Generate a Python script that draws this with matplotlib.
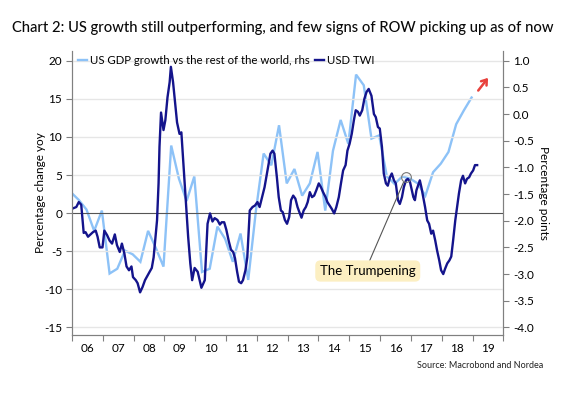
import numpy as np
import matplotlib
matplotlib.use("Agg")
import matplotlib.pyplot as plt
from matplotlib.ticker import FixedLocator, FixedFormatter, FormatStrFormatter

plt.rcParams['font.family'] = ['Lato', 'DejaVu Sans']
plt.rcParams['axes.unicode_minus'] = False

# ---------------- data ----------------
title = "Chart 2: US growth still outperforming, and few signs of ROW picking up as of now"
source = "Source: Macrobond and Nordea"
label_gdp = "US GDP growth vs the rest of the world, rhs"
label_twi = "USD TWI"
annot_text = "The Trumpening"

# USD TWI, % y/y (lhs)
twi_years = [
    2006.055, 2006.14, 2006.22, 2006.30, 2006.38, 2006.44, 2006.52, 2006.60, 2006.68, 2006.77,
    2006.83, 2006.90, 2006.99, 2007.05, 2007.14, 2007.22, 2007.30, 2007.39, 2007.46, 2007.55,
    2007.62, 2007.70, 2007.77, 2007.85, 2007.93, 2007.98, 2008.07, 2008.13, 2008.21, 2008.29,
    2008.37, 2008.45, 2008.52, 2008.59, 2008.65, 2008.71, 2008.76, 2008.81, 2008.84, 2008.89,
    2008.97, 2009.03, 2009.10, 2009.17, 2009.21, 2009.28, 2009.34, 2009.41, 2009.49, 2009.55,
    2009.62, 2009.69, 2009.77, 2009.84, 2009.90, 2009.98, 2010.08, 2010.20, 2010.31, 2010.40,
    2010.48, 2010.56, 2010.63, 2010.72, 2010.80, 2010.86, 2010.94, 2011.01, 2011.09, 2011.16,
    2011.23, 2011.29, 2011.36, 2011.42, 2011.49, 2011.55, 2011.63, 2011.69, 2011.77, 2011.86,
    2011.94, 2012.02, 2012.09, 2012.17, 2012.25, 2012.31, 2012.38, 2012.44, 2012.51, 2012.57,
    2012.65, 2012.71, 2012.78, 2012.84, 2012.91, 2012.98, 2013.05, 2013.11, 2013.18, 2013.25,
    2013.32, 2013.38, 2013.45, 2013.52, 2013.59, 2013.65, 2013.72, 2013.79, 2013.86, 2013.93,
    2014.01, 2014.08, 2014.15, 2014.23, 2014.29, 2014.36, 2014.43, 2014.51, 2014.58, 2014.66,
    2014.73, 2014.80, 2014.88, 2014.94, 2015.01, 2015.08, 2015.15, 2015.21, 2015.28, 2015.34,
    2015.42, 2015.49, 2015.56, 2015.63, 2015.72, 2015.80, 2015.86, 2015.93, 2015.99, 2016.06,
    2016.12, 2016.19, 2016.25, 2016.32, 2016.38, 2016.45, 2016.51, 2016.58, 2016.64, 2016.71,
    2016.77, 2016.84, 2016.90, 2016.97, 2017.03, 2017.08, 2017.13, 2017.18, 2017.23, 2017.29,
    2017.34, 2017.40, 2017.46, 2017.53, 2017.59, 2017.66, 2017.72, 2017.79, 2017.85, 2017.92,
    2017.98, 2018.05, 2018.11, 2018.18, 2018.25, 2018.31, 2018.37, 2018.44, 2018.50, 2018.56,
    2018.63, 2018.69, 2018.76, 2018.82, 2018.89, 2018.95, 2019.02, 2019.08, 2019.15,
]
twi_values = [
    0.66, 0.8, 1.45, 1.1, -2.6, -2.5, -3.1, -2.8, -2.5, -2.3,
    -3.1, -4.5, -4.5, -2.3, -2.9, -3.6, -4.0, -2.8, -4.2, -5.1,
    -4.0, -5.3, -7.0, -7.5, -7.0, -8.4, -8.8, -9.2, -10.4, -9.7,
    -8.8, -8.2, -7.7, -7.2, -5.8, -3.1, -0.96, 3.9, 8.7, 13.2,
    10.9, 12.2, 15.2, 17.2, 19.2, 17.2, 14.8, 11.9, 10.4, 10.6,
    6.3, 2.1, -3.1, -6.6, -8.8, -7.2, -7.7, -9.8, -8.8, -1.4,
    -0.04, -1.1, -0.66, -0.9, -1.5, -1.2, -1.2, -2.2, -3.7, -4.8,
    -5.1, -5.9, -7.7, -9.0, -9.2, -8.8, -7.5, -5.8, 0.35, 0.8,
    1.0, 1.45, 0.8, 2.1, 3.4, 4.8, 6.5, 7.8, 8.2, 7.8,
    4.7, 2.1, 0.35, 0.13, -0.9, -1.4, -0.5, 1.7, 2.3, 1.9,
    0.8, 0.13, -0.6, 0.35, 0.8, 1.45, 2.75, 2.1, 2.3, 3.0,
    3.9, 3.4, 2.75, 2.1, 1.45, 1.0, 0.57, -0.04, 0.8, 2.1,
    3.9, 5.6, 6.3, 8.2, 9.1, 10.4, 12.2, 13.5, 13.3, 12.8,
    13.5, 15.0, 15.9, 16.3, 15.4, 13.0, 12.6, 11.3, 11.1, 8.7,
    5.2, 3.9, 3.6, 4.7, 5.2, 4.3, 3.9, 1.7, 1.2, 2.1,
    3.4, 4.3, 4.5, 4.1, 3.0, 2.1, 1.7, 3.0, 3.6, 4.3,
    3.4, 2.1, 0.8, -0.96, -1.4, -2.7, -2.3, -3.6, -4.9, -6.2,
    -7.5, -8.0, -7.3, -6.6, -6.2, -5.7, -3.6, -0.96, 0.8, 2.6,
    4.3, 4.9, 3.9, 4.5, 4.7, 5.2, 5.6, 6.3, 6.3,
]

# US GDP growth vs rest of world, percentage points (rhs), quarterly
gdp_start = 2005.97
gdp_values = [
    -1.47, -1.61, -1.79, -2.19, -1.81, -2.99, -2.90, -2.56, -2.63, -2.77,
    -2.19, -2.51, -2.86, -0.59, -1.21, -1.63, -1.17, -2.96, -2.90, -2.11,
    -2.34, -2.77, -2.24, -3.11, -1.81, -0.74, -0.96, -0.21, -1.30, -1.03,
    -1.53, -1.30, -0.71, -1.81, -0.69, -0.11, -0.56, 0.74, 0.54, -0.46,
    -0.40, -1.17, -1.31, -1.17, -1.21, -1.30, -1.53, -1.09, -0.93, -0.71,
    -0.19, 0.07, 0.31,
]
gdp_years = gdp_start + 0.25 * np.arange(len(gdp_values))

years = list(range(2006, 2020))
year_labels = [f"{y % 100:02d}" for y in years]
left_ticks = [20, 15, 10, 5, 0, -5, -10, -15]
right_ticks = [1.0, 0.5, 0.0, -0.5, -1.0, -1.5, -2.0, -2.5, -3.0, -3.5, -4.0]

trump_point = (2016.83, 4.7)

# ---------------- styling ----------------
c_light = "#8dc2f7"
c_dark = "#14148c"
c_axis = "#808080"
c_grid = "#e6e6e6"

fig = plt.figure(figsize=(5.62, 3.94), dpi=100)
ax = fig.add_axes([0.1281, 0.1497, 0.7675, 0.7213])
ax2 = ax.twinx()
ax.set_zorder(ax2.get_zorder() + 1)
ax.patch.set_visible(False)

ax.set_xlim(2006, 2020)
ax.set_ylim(-16.0, 21.3)
ax2.set_ylim((-16.0 - 13) / 7, (21.3 - 13) / 7)

l2, = ax2.plot(gdp_years, gdp_values, color=c_light, lw=1.7, solid_joinstyle='miter')
l1, = ax.plot(twi_years, twi_values, color=c_dark, lw=1.7)

# grid + zero line
for v in left_ticks:
    if v != 0:
        ax.axhline(v, color=c_grid, lw=1.0, zorder=0)
ax.axhline(0, color="#555555", lw=0.8, zorder=1)

# ticks
ax.set_yticks(left_ticks)
ax.tick_params(axis='y', length=4, color=c_axis, labelsize=8.5, pad=3)
ax2.set_yticks(right_ticks)
ax2.yaxis.set_major_formatter(FormatStrFormatter('%.1f'))
ax2.tick_params(axis='y', length=4, color=c_axis, labelsize=8.5, pad=3)

ax.xaxis.set_major_locator(FixedLocator(years + [2020]))
ax.xaxis.set_major_formatter(FixedFormatter([""] * 15))
ax.xaxis.set_minor_locator(FixedLocator([y + 0.5 for y in years]))
ax.xaxis.set_minor_formatter(FixedFormatter(year_labels))
ax.tick_params(axis='x', which='major', length=4, color=c_axis)
ax.tick_params(axis='x', which='minor', length=0, labelsize=8.5, pad=6)

for a in (ax, ax2):
    a.spines['top'].set_visible(False)
    for s in ('left', 'right', 'bottom'):
        a.spines[s].set_color(c_axis)
        a.spines[s].set_linewidth(0.8)

ax.set_ylabel("Percentage change yoy", fontsize=8.5, labelpad=-1)
ax2.set_ylabel("Percentage points", fontsize=8.5, rotation=270, labelpad=11)

# legend
ax.legend([l2, l1], [label_gdp, label_twi], loc='upper left', ncol=2, frameon=False,
          fontsize=8.2, handlelength=0.8, handletextpad=0.3, columnspacing=0.4,
          borderaxespad=0.0, bbox_to_anchor=(0.003, 1.0))

# Trumpening annotation
ax.plot([trump_point[0]], [trump_point[1]], marker='o', ms=7, mfc='none',
        mec='#777777', mew=0.8, zorder=5)
ax.annotate(annot_text, xy=trump_point, xytext=(2015.6, -7.6),
            fontsize=9.5, ha='center', va='center', zorder=6,
            bbox=dict(boxstyle='round,pad=0.35,rounding_size=0.4', fc='#fcefc2', ec='none'),
            arrowprops=dict(arrowstyle='-', color='#555555', lw=0.8,
                            relpos=(0.5, 1.0), shrinkA=0, shrinkB=4))

# red arrow
ax2.annotate('', xy=(2019.56, 0.72), xytext=(2019.13, 0.40),
             arrowprops=dict(arrowstyle='->,head_length=0.35,head_width=0.25',
                             color='#e8413c', lw=1.8), annotation_clip=False)

fig.text(0.021, 1 - 28 / 394, title, fontsize=10.6, va='center', ha='left',
         color='#0a0a0a', fontweight='medium')
fig.text(0.967, 1 - 366 / 394, source, fontsize=6.5, va='center', ha='right', color='#222222')

fig.savefig("out.png", dpi=100)
